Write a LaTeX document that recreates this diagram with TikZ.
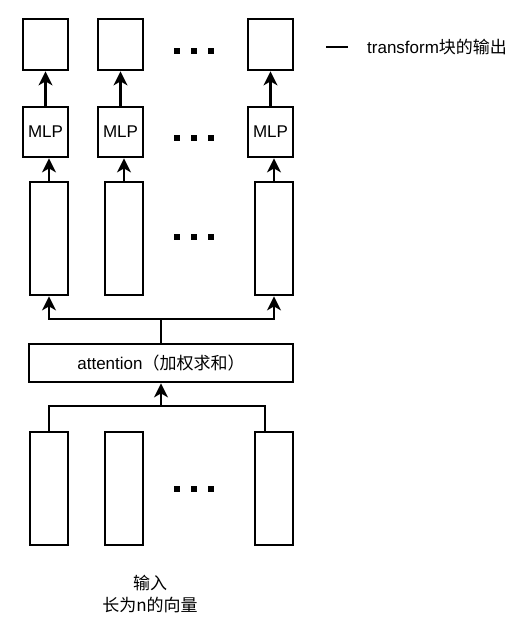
\documentclass[tikz,border=0pt]{standalone}
\usepackage{fontspec}
\setmainfont{Liberation Sans}
\newfontfamily\cjk{Noto Sans CJK SC}
\usetikzlibrary{arrows.meta}

\tikzset{
  vecbox/.style={draw,line width=2.8pt,inner sep=0pt,minimum width=38pt,minimum height=113pt},
  outbox/.style={draw,line width=2.8pt,inner sep=0pt,minimum width=45pt,minimum height=51pt},
  mlpbox/.style={draw,line width=2.8pt,inner sep=0pt,minimum width=45pt,minimum height=50pt},
  link/.style={line width=2.2pt},
  uparrow/.style={line width=2.2pt,-{Stealth[length=14pt,width=14pt,inset=4pt]}}
}

\begin{document}
\begin{tikzpicture}[x=1pt,y=-1pt,font=\fontsize{17}{22}\selectfont]
\useasboundingbox (0,0) rectangle (521,624);

% outputs
\node [outbox] (out1) at (45.5,44.5) {};
\node [outbox] (out2) at (120.5,44.5) {};
\node [outbox] (out3) at (270.5,44.5) {};

% MLP
\node [mlpbox] (mlp1) at (45.5,132) {MLP};
\node [mlpbox] (mlp2) at (120.5,132) {MLP};
\node [mlpbox] (mlp3) at (270.5,132) {MLP};

% vectors after attention
\node [vecbox] (mid1) at (49,238.5) {};
\node [vecbox] (mid2) at (124,238.5) {};
\node [vecbox] (mid3) at (274,238.5) {};

\node [draw,line width=2.8pt,minimum width=264pt,minimum height=38pt] (att) at (161,363) {attention{\cjk （加权求和）}};

% input vectors
\node [vecbox] (in1) at (49,488.5) {};
\node [vecbox] (in2) at (124,488.5) {};
\node [vecbox] (in3) at (274,488.5) {};

\node [align=center] (label) at (150,594) {\cjk 输入\\\cjk 长为n的向量};

\foreach \i in {1,2,3} {
  \draw [uparrow] (mlp\i.north) -- (out\i.south);
  \draw [uparrow] (mid\i.north) -- (mid\i.north |- mlp\i.south);
}

\coordinate (split) at (161,319);
\coordinate (join) at (161,406);
\draw [link] (att.north) -- (split);
\draw [uparrow] (split) -| (mid1.south);
\draw [uparrow] (split) -| (mid3.south);
\draw [link] (in1.north) |- (join) -| ([xshift=-9pt]in3.north);
\draw [uparrow] (join) -- (att.south);

% dots
\foreach \y in {50.5,138,237,489}
  \foreach \x in {176.5,193.5,210.5}
    \fill (\x-3,\y-3) rectangle ++(6,6);

% legend
\coordinate (lg1) at (326,47);
\coordinate (lg2) at (348,47);
\draw [link] (lg1) -- (lg2);
\node [anchor=west,inner sep=0pt] (legend) at (367,47) {transform{\cjk 块的输出}};
\end{tikzpicture}
\end{document}
